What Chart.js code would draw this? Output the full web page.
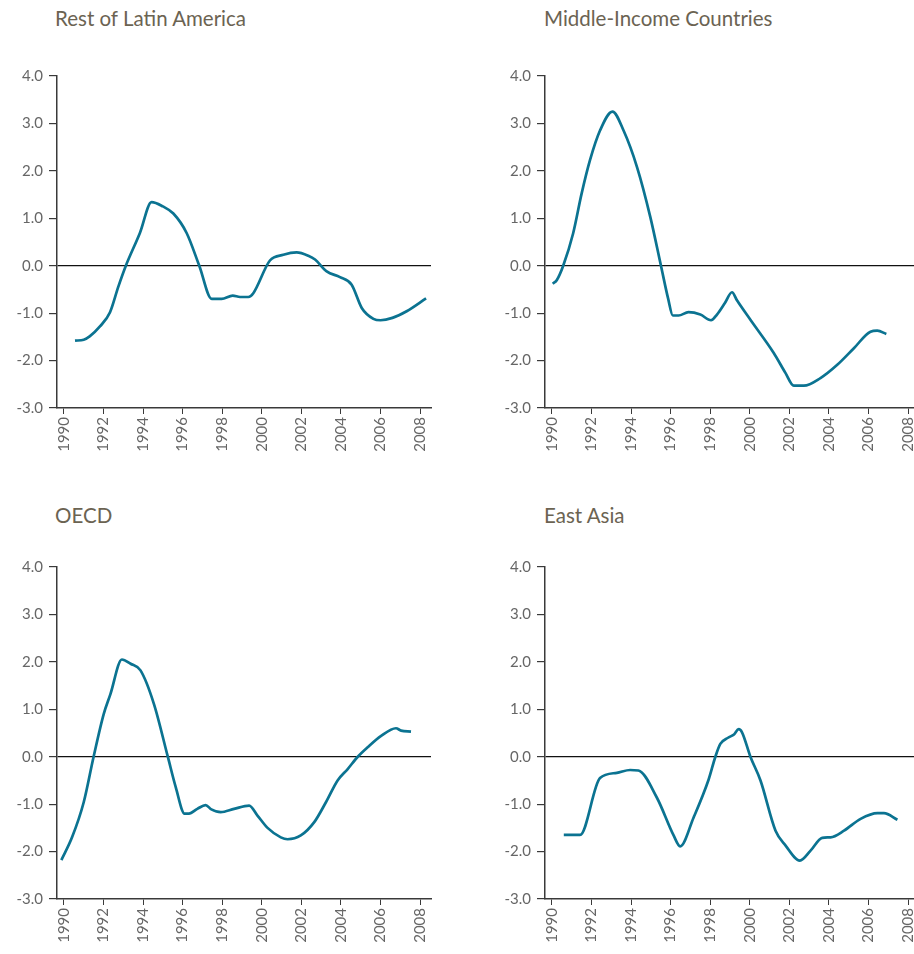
<!DOCTYPE html>
<html>
<head>
<meta charset="utf-8">
<script src="https://cdn.jsdelivr.net/npm/chart.js@4"></script>
<style>
  html, body { margin: 0; padding: 0; background: #fff; overflow: hidden; }
  body { width: 914px; height: 954px; position: relative; }
  .ttl { position: absolute; font-family: Lato, sans-serif; font-size: 20.5px; color: #6b6352; line-height: 20px; white-space: nowrap; }
  canvas { position: absolute; }
</style>
</head>
<body>
<div class="ttl" style="left:55px; top:8px;">Rest of Latin America</div>
<div class="ttl" style="left:544px; top:8px;">Middle-Income Countries</div>
<div class="ttl" style="left:55px; top:505px;">OECD</div>
<div class="ttl" style="left:544px; top:505px;">East Asia</div>
<canvas id="latam" width="457" height="463" style="left:0; top:0;"></canvas>
<canvas id="mic" width="457" height="463" style="left:488px; top:0;"></canvas>
<canvas id="oecd" width="457" height="463" style="left:0; top:491px;"></canvas>
<canvas id="easia" width="457" height="463" style="left:488px; top:491px;"></canvas>
<script>
// tick labels
const xTicks = [1990, 1992, 1994, 1996, 1998, 2000, 2002, 2004, 2006, 2008];
const yTicks = [-3, -2, -1, 0, 1, 2, 3, 4];

// Rest of Latin America
const latamYears = [1990.56, 1991.0, 1991.3, 1991.82, 1992.33, 1992.75, 1993.13, 1993.84, 1994.43, 1995.0, 1995.53, 1996.2, 1996.84, 1997.47, 1997.97, 1998.53, 1998.9, 1999.32, 1999.57, 2000.41, 2001.09, 2001.76, 2002.35, 2002.69, 2003.28, 2003.95, 2004.54, 2005.05, 2005.64, 2006.0, 2006.6, 2007.32, 2008.3];
const latamValues = [-1.58, -1.56, -1.49, -1.28, -0.98, -0.44, 0.0, 0.69, 1.34, 1.25, 1.10, 0.69, 0.0, -0.70, -0.70, -0.63, -0.66, -0.66, -0.58, 0.11, 0.23, 0.28, 0.21, 0.13, -0.12, -0.24, -0.40, -0.89, -1.12, -1.15, -1.10, -0.96, -0.69];

// Middle-Income Countries
const micYears = [1990.04, 1990.25, 1990.57, 1991.07, 1991.5, 1991.92, 1992.43, 1993.06, 1993.62, 1994.3, 1994.97, 1995.51, 1995.87, 1996.11, 1996.4, 1996.9, 1997.5, 1998.04, 1998.34, 1998.75, 1999.1, 1999.35, 2000.03, 2001.21, 2001.8, 2002.22, 2002.73, 2003.57, 2004.42, 2005.26, 2006.1, 2006.44, 2006.9];
const micValues = [-0.38, -0.30, 0.0, 0.68, 1.52, 2.22, 2.85, 3.25, 2.85, 2.08, 1.03, 0.0, -0.69, -1.05, -1.05, -0.98, -1.03, -1.15, -1.03, -0.78, -0.56, -0.73, -1.14, -1.84, -2.26, -2.53, -2.53, -2.37, -2.09, -1.74, -1.39, -1.37, -1.44];

// OECD
const oecdYears = [1989.87, 1990.41, 1991.0, 1991.5, 1992.01, 1992.35, 1992.93, 1993.37, 1993.87, 1994.55, 1995.25, 1995.65, 1996.1, 1996.32, 1996.74, 1997.16, 1997.45, 1997.92, 1998.6, 1999.36, 1999.78, 2000.29, 2000.96, 2001.3, 2001.97, 2002.65, 2003.24, 2003.83, 2004.34, 2004.85, 2005.35, 2006.03, 2006.78, 2007.04, 2007.54];
const oecdValues = [-2.18, -1.70, -0.96, 0.0, 0.90, 1.32, 2.05, 1.96, 1.82, 1.11, 0.0, -0.64, -1.20, -1.20, -1.10, -1.02, -1.11, -1.17, -1.10, -1.03, -1.24, -1.50, -1.70, -1.74, -1.66, -1.38, -0.96, -0.50, -0.26, 0.0, 0.20, 0.44, 0.60, 0.55, 0.53];

// East Asia
const easiaYears = [1990.6, 1991.42, 1992.43, 1993.28, 1993.95, 1994.37, 1995.3, 1996.15, 1996.48, 1997.16, 1997.92, 1998.26, 1998.51, 1998.9, 1999.2, 1999.44, 1999.6, 2000.03, 2000.54, 2001.3, 2001.8, 2002.53, 2003.07, 2003.66, 2004.08, 2004.76, 2005.6, 2006.45, 2006.78, 2007.46];
const easiaValues = [-1.65, -1.65, -0.45, -0.34, -0.28, -0.29, -0.86, -1.66, -1.89, -1.28, -0.48, 0.0, 0.27, 0.40, 0.47, 0.58, 0.52, 0.0, -0.50, -1.56, -1.87, -2.19, -1.98, -1.71, -1.70, -1.56, -1.31, -1.19, -1.19, -1.33];

const axisColor = "#3a3a3a";
const lineColor = "#0b7391";

function drawPanel(id, years, values) {
  const pts = years.map((x, i) => ({ x: x, y: values[i] }));
  new Chart(document.getElementById(id), {
    type: "line",
    data: {
      datasets: [{
        data: pts,
        borderColor: lineColor,
        borderWidth: 2.7,
        pointRadius: 0,
        fill: false,
        cubicInterpolationMode: "monotone",
      }],
    },
    options: {
      responsive: false,
      animation: false,
      devicePixelRatio: 1,
      layout: { padding: { top: 76, right: 26, left: 0, bottom: 0 } },
      plugins: { legend: { display: false }, tooltip: { enabled: false } },
      scales: {
        x: {
          type: "linear",
          min: 1989.65,
          max: 2008.55,
          afterBuildTicks: (s) => { s.ticks = xTicks.map(v => ({ value: v })); },
          afterFit: (s) => { s.height = 55; },
          border: { display: true, color: axisColor, width: 1.5 },
          grid: { drawOnChartArea: false, drawTicks: true, tickLength: 6, tickColor: axisColor },
          ticks: {
            minRotation: 90, maxRotation: 90, padding: 3, autoSkip: false,
            color: "#666", font: { family: "Lato", size: 15 },
            callback: (v) => String(v),
          },
        },
        y: {
          min: -3,
          max: 4,
          afterBuildTicks: (s) => { s.ticks = yTicks.map(v => ({ value: v })); },
          afterFit: (s) => { s.width = 57; },
          border: { display: true, color: axisColor, width: 1.5 },
          grid: {
            drawOnChartArea: true,
            color: (c) => (c.tick && c.tick.value === 0 ? "#111" : "rgba(0,0,0,0)"),
            lineWidth: 1.2,
            tickLength: 8,
            tickColor: axisColor,
          },
          ticks: {
            padding: 6, color: "#666", font: { family: "Lato", size: 15 },
            callback: (v) => v.toFixed(1),
          },
        },
      },
    },
  });
}

drawPanel("latam", latamYears, latamValues);
drawPanel("mic", micYears, micValues);
drawPanel("oecd", oecdYears, oecdValues);
drawPanel("easia", easiaYears, easiaValues);
</script>
</body>
</html>
